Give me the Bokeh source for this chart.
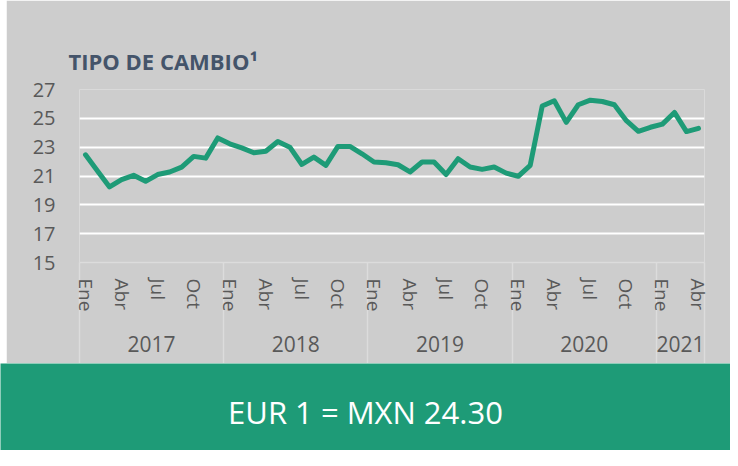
from bokeh.plotting import figure
from bokeh.models import (ColumnDataSource, Range1d, FixedTicker, Label, Spacer, LinearAxis)
from bokeh.layouts import column, row
from bokeh.embed import file_html
from bokeh.resources import INLINE

# ---- data ----
years = ["2017", "2018", "2019", "2020", "2021"]
months_per_year = [12, 12, 12, 12, 4]
month_names = ["Ene", "Feb", "Mar", "Abr", "May", "Jun", "Jul", "Ago", "Sep", "Oct", "Nov", "Dic"]
shown_months = ["Ene", "Abr", "Jul", "Oct"]
vals = [22.47, 21.35, 20.24, 20.75, 21.05, 20.63, 21.10, 21.28, 21.62, 22.36, 22.24, 23.64,
        23.23, 22.95, 22.61, 22.72, 23.39, 23.00, 21.80, 22.31, 21.74, 23.05, 23.05, 22.54,
        21.97, 21.92, 21.78, 21.28, 21.97, 21.97, 21.10, 22.20, 21.62, 21.46, 21.62, 21.20,
        20.98, 21.74, 25.85, 26.22, 24.72, 25.94, 26.26, 26.17, 25.94, 24.84, 24.10, 24.38,
        24.60, 25.41, 24.08, 24.30]
y_ticks = [15, 17, 19, 21, 23, 25, 27]
title_text = "TIPO DE CAMBIO\u00b9"
banner_text = "EUR 1 = MXN %.2f" % vals[-1]

GREY = "#cdcdcd"
GREEN = "#1e9b77"
TXT = "#595959"
SEP = "#dcdcdc"
FONT = "Open Sans"

# month positions (index along the series), labels and year groups
xs = list(range(len(vals)))
month_ticks, month_labels = [], {}
year_centers, year_labels, boundaries = [], {}, []
start = 0
for yr, n in zip(years, months_per_year):
    boundaries.append(start - 0.5)
    for k in range(n):
        if month_names[k] in shown_months:
            month_ticks.append(start + k)
            month_labels[start + k] = month_names[k]
    c = start + (n - 1) / 2
    year_centers.append(c)
    year_labels[c] = yr
    start += n
boundaries.append(start - 0.5)

src = ColumnDataSource(data=dict(x=xs, y=vals))

# ---- chart ----
p = figure(width=724, height=363,
           x_range=Range1d(-0.5, len(vals) - 0.5),
           y_range=Range1d(15, 27),
           output_backend="svg", toolbar_location=None,
           min_border_left=73, min_border_right=26, min_border_top=89, min_border_bottom=101,
           background_fill_color=GREY, border_fill_color=GREY, outline_line_color=None)

# keep references to the default axes before adding more
xa = p.below[0]
ya = p.left[0]

p.title.text = title_text
p.title.align = "left"
p.title.offset = -11
p.title.standoff = 28
p.title.text_font = FONT
p.title.text_font_size = "22px"
p.title.text_font_style = "bold"
p.title.text_color = "#44546a"

p.line(x="x", y="y", source=src, line_color=GREEN, line_width=5,
       line_join="round", line_cap="round")

p.xgrid.grid_line_color = None
p.ygrid.ticker = FixedTicker(ticks=y_ticks)
p.ygrid.grid_line_color = "white"
p.ygrid.grid_line_width = 2

ya.ticker = FixedTicker(ticks=y_ticks)
ya.axis_line_color = None
ya.major_tick_line_color = None
ya.major_tick_out = 0
ya.minor_tick_line_color = None
ya.minor_tick_out = 0
ya.major_label_standoff = 24
ya.major_label_text_font = FONT
ya.major_label_text_font_size = "20px"
ya.major_label_text_color = TXT

# month axis, with year separators as long minor ticks (drawn outward via negative tick_in)
xa.ticker = FixedTicker(ticks=month_ticks, minor_ticks=boundaries)
xa.major_label_overrides = month_labels
xa.major_label_orientation = "vertical"
xa.major_tick_line_color = None
xa.major_tick_out = 0
xa.major_tick_in = 0
xa.minor_tick_out = 0
xa.minor_tick_in = -101
xa.minor_tick_line_color = SEP
xa.minor_tick_line_width = 1.5
xa.axis_line_color = SEP
xa.axis_line_width = 1.5
xa.major_label_text_font = FONT
xa.major_label_text_font_size = "19px"
xa.major_label_text_color = TXT
xa.major_label_standoff = 16

# year axis
yax = LinearAxis(ticker=FixedTicker(ticks=year_centers, minor_ticks=[]),
                 major_label_overrides=year_labels)
yax.axis_line_color = None
yax.major_tick_line_color = None
yax.major_tick_out = 0
yax.major_tick_in = 0
yax.minor_tick_line_color = None
yax.minor_tick_out = 0
yax.minor_tick_in = 0
yax.major_label_standoff = 21
yax.major_label_text_font = FONT
yax.major_label_text_font_size = "21px"
yax.major_label_text_color = TXT
p.add_layout(yax, "below")

# empty spacer axis between title and plot area (lifts the title)
gap = LinearAxis(ticker=FixedTicker(ticks=[], minor_ticks=[]))
gap.axis_line_color = None
gap.major_tick_line_color = None
gap.minor_tick_line_color = None
gap.major_tick_out = 26
gap.major_tick_in = 0
gap.minor_tick_out = 0
gap.minor_tick_in = 0
gap.major_label_standoff = 0
p.add_layout(gap, "above")

# ---- banner ----
b = figure(width=730, height=87, x_range=Range1d(0, 1), y_range=Range1d(0, 1),
           output_backend="svg", toolbar_location=None, min_border=0,
           background_fill_color=GREEN, border_fill_color=GREEN, outline_line_color=None)
b.axis.visible = False
b.grid.visible = False
b.add_layout(Label(x=0.5, y=0.44, text=banner_text, text_align="center", text_baseline="middle",
                   text_color="white", text_font=FONT, text_font_size="31px"))

layout = column(row(Spacer(width=6, height=363), p), b)

open("out.html", "w").write(file_html(layout, INLINE))
